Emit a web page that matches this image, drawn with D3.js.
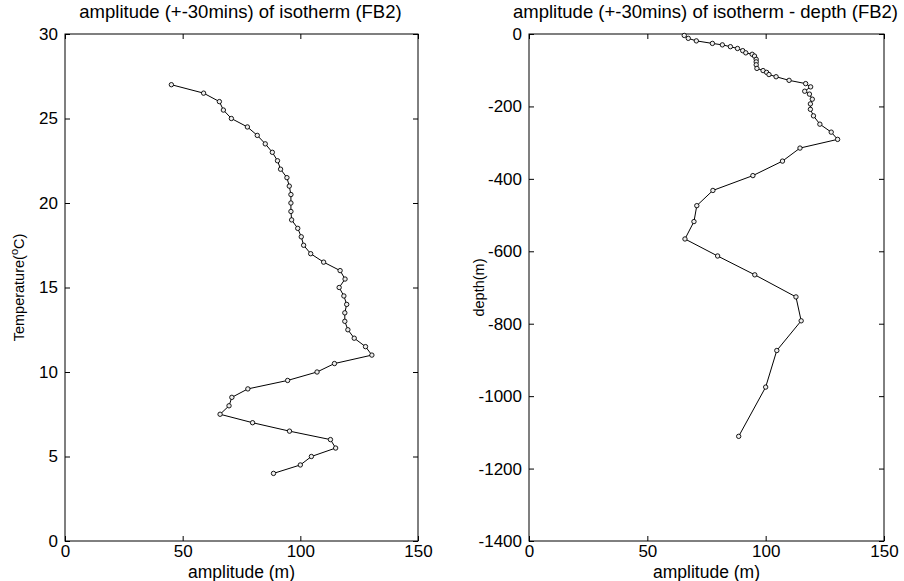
<!DOCTYPE html>
<html>
<head>
<meta charset="utf-8">
<script src="https://cdn.jsdelivr.net/npm/d3@7"></script>
<style>
  body { margin: 0; background: #fff; }
  svg text { font-family: "Liberation Sans", Arial, sans-serif; fill: #000; }
  .axis path { display: none; }
  .axis line { stroke: #000; stroke-width: 1; }
  .axis text { font-size: 17px; }
</style>
</head>
<body>
<div id="chart"></div>
<script>
// isotherm temperatures (degC), top to bottom
var temperature = [27, 26.5, 26, 25.5, 25, 24.5, 24, 23.5, 23, 22.5, 22, 21.5, 21, 20.5, 20,
    19.5, 19, 18.5, 18, 17.5, 17, 16.5, 16, 15.5, 15, 14.5, 14, 13.5, 13, 12.5, 12, 11.5,
    11, 10.5, 10, 9.5, 9, 8.5, 8, 7.5, 7, 6.5, 6, 5.5, 5, 4.5, 4];
// amplitude (m) of each isotherm
var amplitude = [45.2, 58.9, 65.6, 67.3, 70.7, 77.5, 81.7, 85.1, 88.1, 90.3, 91.6, 94.3, 95.3, 96.0, 96.0,
    96.0, 96.3, 98.9, 100.4, 101.4, 104.4, 109.9, 116.9, 119.0, 116.5, 118.5, 119.7, 118.9, 118.9, 120.2, 122.9, 127.7,
    130.4, 114.5, 107.1, 94.6, 77.7, 70.9, 69.7, 65.9, 79.7, 95.4, 112.8, 115.0, 104.7, 100.0, 88.6];
// mean depth (m) of each isotherm (null = not available)
var depth = [null, null, -4, -12, -19, -26, -30, -35, -40, -46, -52, -56, -61, -70, -77,
    -85, -95, -101, -106, -112, -118, -128, -137, -146, -158, -166, -180, -193, -208, -226, -249, -271,
    -291, -315, -351, -391, -432, -474, -518, -566, -613, -665, -726, -792, -874, -975, -1111];

var xTicks = [0, 50, 100, 150];
var tempTicks = [0, 5, 10, 15, 20, 25, 30];
var depthTicks = [0, -200, -400, -600, -800, -1000, -1200, -1400];

var W = 904, H = 581;
var plotTop = 34, plotBottom = 541;

var svg = d3.select('#chart').append('svg')
    .attr('width', W)
    .attr('height', H);

function plainNum(d) {
    return String(d);
}

function drawPanel(cfg) {
    var x = d3.scaleLinear().domain([0, 150]).range([cfg.left, cfg.right]);
    var y = d3.scaleLinear().domain(cfg.ydomain).range([plotBottom, plotTop]);
    var g = svg.append('g');

    g.append('g').attr('class', 'axis')
        .attr('transform', 'translate(0,' + plotBottom + ')')
        .call(d3.axisBottom(x).tickValues(xTicks).tickSizeInner(-5).tickSizeOuter(0).tickPadding(4).tickFormat(plainNum));
    g.append('g').attr('class', 'axis')
        .attr('transform', 'translate(0,' + plotTop + ')')
        .call(d3.axisTop(x).tickValues(xTicks).tickSizeInner(-5).tickSizeOuter(0).tickFormat(''));
    g.append('g').attr('class', 'axis')
        .attr('transform', 'translate(' + cfg.left + ',0)')
        .call(d3.axisLeft(y).tickValues(cfg.yticks).tickSizeInner(-5).tickSizeOuter(0).tickPadding(7).tickFormat(plainNum));
    g.append('g').attr('class', 'axis')
        .attr('transform', 'translate(' + cfg.right + ',0)')
        .call(d3.axisRight(y).tickValues(cfg.yticks).tickSizeInner(-5).tickSizeOuter(0).tickFormat(''));

    g.append('rect')
        .attr('x', cfg.left)
        .attr('y', plotTop)
        .attr('width', cfg.right - cfg.left)
        .attr('height', plotBottom - plotTop)
        .style('fill', 'none')
        .style('stroke', '#000')
        .style('stroke-width', 1);

    var pts = cfg.data;
    var line = d3.line()
        .x(function(d) { return x(d.a); })
        .y(function(d) { return y(d.v); });

    g.append('path')
        .datum(pts)
        .attr('d', line)
        .style('fill', 'none')
        .style('stroke', '#000')
        .style('stroke-width', 1);

    g.selectAll('circle.pt')
        .data(pts)
        .enter()
        .append('circle')
        .attr('class', 'pt')
        .attr('cx', function(d) { return x(d.a); })
        .attr('cy', function(d) { return y(d.v); })
        .attr('r', 2.2)
        .style('fill', '#eee')
        .style('stroke', '#000')
        .style('stroke-width', 0.9);

    var cx = (cfg.left + cfg.right) / 2;
    g.append('text')
        .attr('x', cx - 1)
        .attr('y', 18)
        .attr('text-anchor', 'middle')
        .style('font-size', '18.5px')
        .text(cfg.title);

    g.append('text')
        .attr('x', cx)
        .attr('y', 578)
        .attr('text-anchor', 'middle')
        .style('font-size', '17.5px')
        .text('amplitude (m)');

    return g;
}

var leftData = temperature.map(function(t, i) { return { a: amplitude[i], v: t }; });
var rightData = [];
depth.forEach(function(dp, i) {
    if (dp !== null) rightData.push({ a: amplitude[i], v: dp });
});

drawPanel({
    left: 65, right: 418,
    ydomain: [0, 30],
    yticks: tempTicks,
    data: leftData,
    title: 'amplitude (+-30mins) of isotherm (FB2)'
});

drawPanel({
    left: 529, right: 884,
    ydomain: [-1400, 0],
    yticks: depthTicks,
    data: rightData,
    title: 'amplitude (+-30mins) of isotherm - depth (FB2)'
});

// y labels
var tl = svg.append('text')
    .attr('transform', 'translate(24,' + (plotTop + plotBottom) / 2 + ') rotate(-90)')
    .attr('text-anchor', 'middle')
    .style('font-size', '14.5px');
tl.append('tspan').text('Temperature(');
tl.append('tspan').attr('dy', -6).style('font-size', '11px').text('o');
tl.append('tspan').attr('dy', 6).text('C)');

svg.append('text')
    .attr('transform', 'translate(484,' + (plotTop + plotBottom) / 2 + ') rotate(-90)')
    .attr('text-anchor', 'middle')
    .style('font-size', '14.5px')
    .text('depth(m)');
</script>
</body>
</html>
